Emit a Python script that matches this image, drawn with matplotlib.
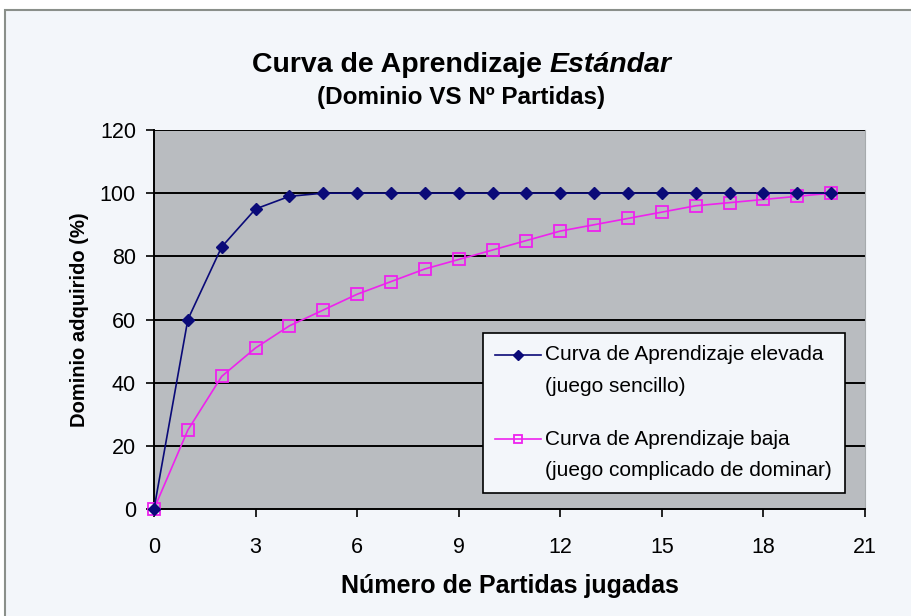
import matplotlib
matplotlib.use("Agg")
import matplotlib.pyplot as plt
from matplotlib.patches import Rectangle
from matplotlib.legend_handler import HandlerLine2D

partidas = list(range(0, 21))
curva_elevada = [0, 60, 83, 95, 99, 100, 100, 100, 100, 100, 100,
                 100, 100, 100, 100, 100, 100, 100, 100, 100, 100]
curva_baja = [0, 25, 42, 51, 58, 63, 68, 72, 76, 79, 82,
              85, 88, 90, 92, 94, 96, 97, 98, 99, 100]
label_elevada = "Curva de Aprendizaje elevada\n(juego sencillo)"
label_baja = "Curva de Aprendizaje baja\n(juego complicado de dominar)"
x_ticks = [0, 3, 6, 9, 12, 15, 18, 21]
y_ticks = [0, 20, 40, 60, 80, 100, 120]

plt.rcParams['font.family'] = ['Liberation Sans', 'DejaVu Sans']


class UpHandler(HandlerLine2D):
    """Line handler aligned with the first line of a two-line label."""
    def __init__(self, shift, **kw):
        super().__init__(**kw)
        self.shift = shift

    def create_artists(self, legend, orig_handle, xdescent, ydescent,
                       width, height, fontsize, trans):
        return super().create_artists(legend, orig_handle, xdescent,
                                      ydescent - 2 * self.shift, width,
                                      height, fontsize, trans)


W, H = 912, 616
fig = plt.figure(figsize=(W / 100, H / 100), dpi=100, facecolor='white')

# chart area background with frame
fig.patches.append(Rectangle((5 / W, -0.01), 1.0, 1 - 10 / H + 0.01,
                             transform=fig.transFigure, facecolor='#f3f6fa',
                             edgecolor='#8a8f8a', linewidth=1.5, zorder=-10))

ax = fig.add_axes([154 / W, 1 - 509 / H, (865 - 154) / W, (509 - 130) / H])
ax.set_zorder(1)
ax.set_facecolor('#b9bcc0')
ax.set_xlim(0, 21)
ax.set_ylim(0, 120)
ax.set_xticks(x_ticks)
ax.set_yticks(y_ticks)
ax.tick_params(axis='both', labelsize=15.5, length=6, width=1.2, color='black',
               direction='out')
ax.tick_params(axis='y', pad=7)
ax.tick_params(axis='x', pad=14)
for yv in y_ticks[1:]:
    ax.axhline(yv, color='black', linewidth=1.4, zorder=1)
ax.spines['top'].set_visible(False)
ax.spines['right'].set_color('#a6aaad')
ax.spines['left'].set_linewidth(1.4)
ax.spines['bottom'].set_linewidth(1.4)

l1, = ax.plot(partidas, curva_elevada, color='#0a0a78', linewidth=1.2, marker='D',
              markersize=6.5, markerfacecolor='#0a0a78', markeredgecolor='#0a0a78',
              label=label_elevada, zorder=4, clip_on=False)
l2, = ax.plot(partidas, curva_baja, color='#ee22ee', linewidth=1.2, marker='s',
              markersize=8, markerfacecolor='none', markeredgecolor='#ee22ee',
              markeredgewidth=1.3, label=label_baja, zorder=3, clip_on=False)

shift_pt = 11.5
leg = ax.legend(loc='upper left', bbox_to_anchor=(0.4627, 0.4644),
                borderaxespad=0, frameon=True, fancybox=False,
                fontsize=15, labelspacing=1.6, handlelength=2.2,
                handletextpad=0.2, borderpad=0.6, markerscale=0.8,
                handler_map={l1: UpHandler(shift_pt), l2: UpHandler(shift_pt)})
for t in leg.get_texts():
    t.set_linespacing(1.85)
leg.get_frame().set_edgecolor('black')
leg.get_frame().set_facecolor('#f3f6fa')
leg.get_frame().set_alpha(1)
leg.get_frame().set_linewidth(1.2)

ax.set_xlabel('Número de Partidas jugadas', fontsize=18, fontweight='bold',
              labelpad=12)
ax.set_ylabel('Dominio adquirido (%)', fontsize=14.5, fontweight='bold',
              labelpad=8)

# title with bold + bold italic parts
fig.canvas.draw()
renderer = fig.canvas.get_renderer()
t1 = fig.text(0, 0, 'Curva de Aprendizaje ', fontsize=20.5, fontweight='bold')
t2 = fig.text(0, 0, 'Estándar', fontsize=20.5, fontweight='bold', style='italic')
w1 = t1.get_window_extent(renderer).width
w2 = t2.get_window_extent(renderer).width
total = w1 + w2
x0 = (462 - total / 2) / W
ybase = 1 - 72 / H
t1.set_position((x0, ybase))
t2.set_position((x0 + w1 / W, ybase))
t1.set_va('baseline')
t2.set_va('baseline')
fig.text(461 / W, 1 - 104 / H, '(Dominio VS Nº Partidas)', fontsize=17.5,
         fontweight='bold', ha='center', va='baseline')

fig.savefig('out.png', dpi=100, facecolor=fig.get_facecolor())
